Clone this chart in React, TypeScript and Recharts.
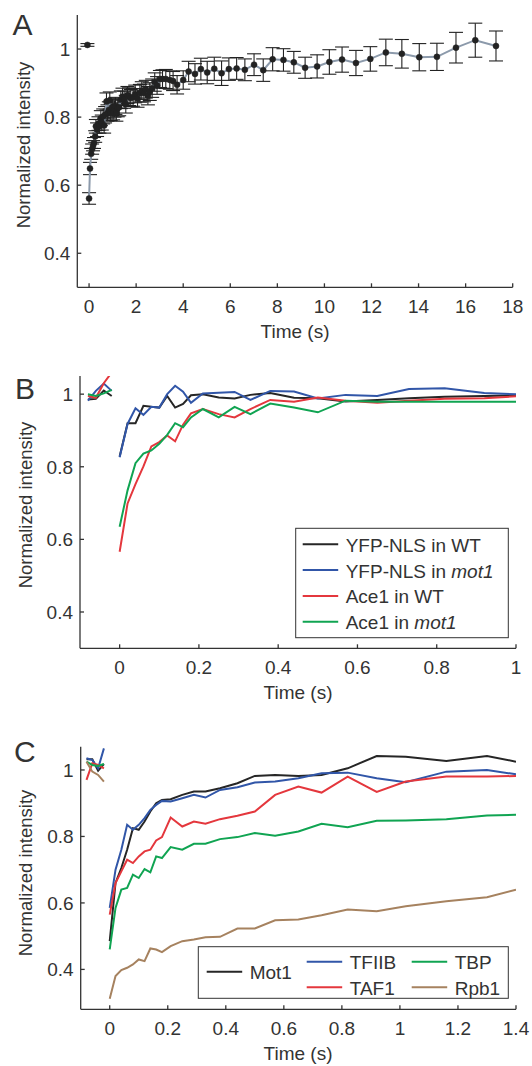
import { LineChart, Line, XAxis, YAxis, ErrorBar } from "recharts";

const FONT = '"Liberation Sans", Arial, Helvetica, sans-serif';
const INK = "#333333";

// ---- panel A: recovery curve, mean +/- error ----
const preTimeA = [-0.07];
const preValueA = [1.012];
const preErrorA = [0.004];
const timeA = [
  0.0, 0.04, 0.09, 0.13, 0.17, 0.21, 0.26, 0.29, 0.34, 0.4, 0.44, 0.5, 0.54, 0.6, 0.64, 0.68, 0.74, 0.78, 0.84, 0.88,
  0.92, 0.98, 1.02, 1.08, 1.12, 1.16, 1.22, 1.28, 1.35, 1.42, 1.49, 1.56, 1.63, 1.7, 1.77, 1.87, 1.96, 2.06, 2.16, 2.24,
  2.33, 2.41, 2.5, 2.58, 2.68, 2.79, 2.89, 3.01, 3.12, 3.26, 3.43, 3.57, 3.74, 4.0, 4.23, 4.5, 4.75, 5.02, 5.32, 5.63,
  5.94, 6.27, 6.62, 7.01, 7.4, 7.8, 8.26, 8.7, 9.18, 9.69, 10.21, 10.75, 11.34, 11.95, 12.61, 13.29, 14.03, 14.78,
  15.59, 16.41, 17.29,
];
const valueA = [
  0.561, 0.649, 0.692, 0.706, 0.716, 0.724, 0.743, 0.773, 0.763, 0.781, 0.773, 0.797, 0.784, 0.802, 0.775, 0.807,
  0.846, 0.812, 0.821, 0.849, 0.814, 0.829, 0.817, 0.824, 0.833, 0.812, 0.826, 0.829, 0.851, 0.86, 0.851, 0.838, 0.865,
  0.86, 0.856, 0.858, 0.868, 0.854, 0.87, 0.878, 0.871, 0.882, 0.863, 0.875, 0.885, 0.903, 0.893, 0.912, 0.912, 0.912,
  0.909, 0.906, 0.895, 0.909, 0.934, 0.927, 0.941, 0.931, 0.942, 0.929, 0.941, 0.943, 0.939, 0.954, 0.938, 0.97, 0.968,
  0.961, 0.945, 0.949, 0.962, 0.969, 0.959, 0.971, 0.99, 0.986, 0.976, 0.977, 1.004, 1.026, 1.009,
];
const errorA = [
  0.017, 0.018, 0.016, 0.015, 0.015, 0.016, 0.017, 0.02, 0.02, 0.02, 0.02, 0.022, 0.022, 0.022, 0.022, 0.024, 0.025,
  0.024, 0.024, 0.025, 0.024, 0.024, 0.025, 0.024, 0.025, 0.024, 0.025, 0.025, 0.026, 0.025, 0.025, 0.026, 0.025, 0.026,
  0.025, 0.026, 0.026, 0.025, 0.026, 0.026, 0.026, 0.026, 0.027, 0.026, 0.027, 0.027, 0.026, 0.025, 0.027, 0.028,
  0.027, 0.028, 0.027, 0.027, 0.03, 0.03, 0.032, 0.033, 0.034, 0.036, 0.033, 0.032, 0.032, 0.032, 0.033, 0.034, 0.033,
  0.032, 0.031, 0.034, 0.036, 0.037, 0.037, 0.036, 0.039, 0.042, 0.04, 0.04, 0.045, 0.05, 0.044,
];
const xTicksA = [0, 2, 4, 6, 8, 10, 12, 14, 16, 18];
const yTicksA = [0.4, 0.6, 0.8, 1];

// ---- panel B ----
const preTimeB = [-0.08, -0.06, -0.04, -0.02];
const timeB = [0, 0.02, 0.04, 0.06, 0.08, 0.1, 0.12, 0.14, 0.16, 0.18, 0.21, 0.25, 0.29, 0.33, 0.38, 0.44, 0.5, 0.57, 0.65, 0.73, 0.82, 0.92, 1];
const preYfpWt = [0.985, 0.987, 1.01, 0.995];
const yfpWt = [0.828, 0.92, 0.92, 0.968, 0.965, 0.963, 0.995, 0.963, 0.973, 0.997, 1.0, 0.991, 0.988, 0.998, 1.003, 0.99, 0.989, 0.98, 0.984, 0.989, 0.993, 0.995, 0.997];
const preYfpMot1 = [0.982, 1.009, 1.029, 1.009];
const yfpMot1 = [0.826, 0.918, 0.961, 0.943, 0.965, 0.963, 1.0, 1.023, 1.007, 0.976, 1.002, 1.004, 1.006, 0.984, 1.009, 1.007, 0.988, 0.998, 0.995, 1.014, 1.016, 1.003, 1.0];
const preAce1Wt = [0.995, 0.99, 1.03, 1.06];
const ace1Wt = [0.566, 0.699, 0.752, 0.801, 0.856, 0.868, 0.886, 0.87, 0.916, 0.947, 0.959, 0.945, 0.936, 0.959, 0.984, 0.979, 0.991, 0.982, 0.976, 0.982, 0.987, 0.989, 0.994];
const preAce1Mot1 = [1.0, 0.995, 1.002, 1.012];
const ace1Mot1 = [0.635, 0.735, 0.81, 0.836, 0.845, 0.863, 0.888, 0.92, 0.909, 0.936, 0.959, 0.936, 0.965, 0.945, 0.974, 0.963, 0.95, 0.982, 0.979, 0.979, 0.979, 0.979, 0.979];
const xTicksB = [0, 0.2, 0.4, 0.6, 0.8, 1];
const yTicksB = [0.4, 0.6, 0.8, 1];

// ---- panel C ----
const preTimeC = [-0.08, -0.06, -0.04, -0.02];
const timeC = [0, 0.02, 0.04, 0.06, 0.08, 0.1, 0.12, 0.14, 0.16, 0.18, 0.21, 0.25, 0.29, 0.33, 0.38, 0.44, 0.5, 0.57, 0.65, 0.73, 0.82, 0.92, 1.02, 1.16, 1.3, 1.4];
const preMot1 = [1.032, 1.032, 0.998, 1.018];
const mot1 = [0.485, 0.66, 0.705, 0.76, 0.825, 0.82, 0.845, 0.875, 0.9, 0.91, 0.912, 0.925, 0.935, 0.935, 0.945, 0.96, 0.982, 0.985, 0.982, 0.985, 1.005, 1.042, 1.04, 1.027, 1.042, 1.025];
const preTfiib = [1.035, 1.03, 1.005, 1.065];
const tfiib = [0.585, 0.7, 0.76, 0.835, 0.82, 0.835, 0.855, 0.88, 0.895, 0.907, 0.905, 0.915, 0.925, 0.917, 0.94, 0.948, 0.962, 0.965, 0.975, 0.99, 0.992, 0.975, 0.963, 0.995, 1.0, 0.987];
const preTaf1 = [0.97, 1.02, 1.015, 1.005];
const taf1 = [0.565, 0.66, 0.695, 0.73, 0.72, 0.74, 0.755, 0.76, 0.788, 0.798, 0.857, 0.83, 0.845, 0.838, 0.852, 0.862, 0.875, 0.925, 0.95, 0.932, 0.98, 0.934, 0.965, 0.98, 0.98, 0.982];
const preTbp = [1.025, 1.015, 1.012, 1.018];
const tbp = [0.46, 0.585, 0.64, 0.645, 0.685, 0.675, 0.702, 0.692, 0.74, 0.735, 0.768, 0.76, 0.778, 0.778, 0.792, 0.798, 0.81, 0.802, 0.815, 0.838, 0.828, 0.847, 0.848, 0.852, 0.863, 0.865];
const preRpb1 = [1.025, 0.995, 0.985, 0.965];
const rpb1 = [0.312, 0.38, 0.398, 0.405, 0.415, 0.43, 0.425, 0.463, 0.46, 0.452, 0.47, 0.485, 0.49, 0.497, 0.498, 0.523, 0.523, 0.548, 0.55, 0.563, 0.58, 0.575, 0.59, 0.605, 0.617, 0.64];
const xTicksC = [0, 0.2, 0.4, 0.6, 0.8, 1, 1.2, 1.4];
const yTicksC = [0.4, 0.6, 0.8, 1];

const BLACK = "#262626";
const BLUE = "#3156a8";
const RED = "#e4373d";
const GREEN = "#10a452";
const BROWN = "#a6825f";

const seriesB = [
  { key: "yfpWt", pre: preYfpWt, post: yfpWt, color: BLACK },
  { key: "yfpMot1", pre: preYfpMot1, post: yfpMot1, color: BLUE },
  { key: "ace1Wt", pre: preAce1Wt, post: ace1Wt, color: RED },
  { key: "ace1Mot1", pre: preAce1Mot1, post: ace1Mot1, color: GREEN },
];
const seriesC = [
  { key: "mot1", pre: preMot1, post: mot1, color: BLACK },
  { key: "tfiib", pre: preTfiib, post: tfiib, color: BLUE },
  { key: "taf1", pre: preTaf1, post: taf1, color: RED },
  { key: "tbp", pre: preTbp, post: tbp, color: GREEN },
  { key: "rpb1", pre: preRpb1, post: rpb1, color: BROWN },
];

const rowsA = [
  ...preTimeA.map((t, i) => ({ t, v: preValueA[i], e: preErrorA[i] })),
  { t: -0.035, v: null, e: null },
  ...timeA.map((t, i) => ({ t, v: valueA[i], e: errorA[i] })),
];

function buildRows(preTime: number[], time: number[], series: { key: string; pre: number[]; post: number[] }[]) {
  const rows: Record<string, number | null>[] = [];
  preTime.forEach((t, i) => {
    const r: Record<string, number | null> = { t };
    series.forEach((s) => (r[s.key] = s.pre[i]));
    rows.push(r);
  });
  const gap: Record<string, number | null> = { t: -0.01 };
  series.forEach((s) => (gap[s.key] = null));
  rows.push(gap);
  time.forEach((t, i) => {
    const r: Record<string, number | null> = { t };
    series.forEach((s) => (r[s.key] = s.post[i]));
    rows.push(r);
  });
  return rows;
}
const rowsB = buildRows(preTimeB, timeB, seriesB);
const rowsC = buildRows(preTimeC, timeC, seriesC);

// box with inward ticks on all four sides (matlab style)
function frame(xDomain: number[], xTicks: number[], yDomain: number[], yTicks: number[]) {
  const common = { stroke: INK, strokeWidth: 1.3, allowDataOverflow: true, interval: 0 as const, tickSize: -4 };
  const tickStyle = { fill: INK, fontSize: 19 };
  return [
    <XAxis key="xb" xAxisId="b" dataKey="t" type="number" domain={xDomain} ticks={xTicks} height={30}
      tickMargin={16.5} tick={tickStyle} tickFormatter={(v: number) => String(v)} {...common} />,
    <XAxis key="xt" xAxisId="t" orientation="top" dataKey="t" type="number" domain={xDomain} ticks={xTicks}
      height={0} tickFormatter={() => ""} {...common} />,
    <YAxis key="yl" yAxisId="l" type="number" domain={yDomain} ticks={yTicks} width={40} tickMargin={11}
      tick={tickStyle} tickFormatter={(v: number) => String(v)} {...common} />,
    <YAxis key="yr" yAxisId="r" orientation="right" type="number" domain={yDomain} ticks={yTicks} width={0}
      tickFormatter={() => ""} {...common} />,
  ];
}

function LegendRow({ x, y, color, children }: { x: number; y: number; color: string; children: React.ReactNode }) {
  return (
    <g>
      <line x1={x} x2={x + 35.5} y1={y} y2={y} stroke={color} strokeWidth={2} />
      <text x={x + 43} y={y + 7.5} fontSize={19} fill={INK}>
        {children}
      </text>
    </g>
  );
}

export default function App() {
  return (
    <div style={{ position: "absolute", left: 0, top: 0, width: 532, height: 1066, background: "#fff", fontFamily: FONT }}>
      <div style={{ position: "absolute", left: 0, top: 0 }}>
        <LineChart width={532} height={340} data={rowsA} margin={{ top: 15, right: 19.3, bottom: 22.7, left: 37.3 }}>
          {frame([-0.5, 18], xTicksA, [0.3, 1.1], yTicksA)}
          <Line xAxisId="b" yAxisId="l" dataKey="v" type="linear" stroke="#8c9aab" strokeWidth={2}
            dot={{ r: 3, fill: "#222", stroke: "#222", strokeWidth: 0.5 }} isAnimationActive={false}>
            <ErrorBar dataKey="e" width={7} stroke="#222" strokeWidth={1.1} direction="y" />
          </Line>
        </LineChart>
      </div>

      <div style={{ position: "absolute", left: 0, top: 340 }}>
        <LineChart width={532} height={360} data={rowsB} margin={{ top: 36, right: 16, bottom: 21.7, left: 40 }}>
          {frame([-0.1, 1], xTicksB, [0.3, 1.05], yTicksB)}
          {seriesB.map((s) => (
            <Line key={s.key} xAxisId="b" yAxisId="l" dataKey={s.key} type="linear" stroke={s.color}
              strokeWidth={2} dot={false} isAnimationActive={false} />
          ))}
        </LineChart>
      </div>

      <div style={{ position: "absolute", left: 0, top: 700 }}>
        <LineChart width={532} height={366} data={rowsC} margin={{ top: 46.7, right: 16, bottom: 26.7, left: 40.7 }}>
          {frame([-0.1, 1.4], xTicksC, [0.28, 1.07], yTicksC)}
          {seriesC.map((s) => (
            <Line key={s.key} xAxisId="b" yAxisId="l" dataKey={s.key} type="linear" stroke={s.color}
              strokeWidth={2} dot={false} isAnimationActive={false} />
          ))}
        </LineChart>
      </div>

      <svg width={532} height={1066} style={{ position: "absolute", left: 0, top: 0, pointerEvents: "none" }}>
        <g fill={INK} fontSize={30}>
          <text x={12.5} y={35}>A</text>
          <text x={15} y={399}>B</text>
          <text x={14} y={762}>C</text>
        </g>
        <g fill={INK} fontSize={18.5} textAnchor="middle">
          <text transform="translate(30,145) rotate(-90)">Normalized intensity</text>
          <text transform="translate(31.5,505) rotate(-90)">Normalized intensity</text>
          <text transform="translate(31.5,873) rotate(-90)">Normalized intensity</text>
        </g>
        <g fill={INK} fontSize={19} textAnchor="middle">
          <text x={295} y={338}>Time (s)</text>
          <text x={298} y={699}>Time (s)</text>
          <text x={298} y={1060}>Time (s)</text>
        </g>

        <rect x={295.7} y={528.3} width={212.6} height={109.4} fill="#fff" stroke={INK} strokeWidth={1} />
        <LegendRow x={302.7} y={544.3} color={BLACK}>YFP-NLS in WT</LegendRow>
        <LegendRow x={302.7} y={570.1} color={BLUE}>
          YFP-NLS in <tspan fontStyle="italic">mot1</tspan>
        </LegendRow>
        <LegendRow x={302.7} y={595.9} color={RED}>Ace1 in WT</LegendRow>
        <LegendRow x={302.7} y={621.7} color={GREEN}>
          Ace1 in <tspan fontStyle="italic">mot1</tspan>
        </LegendRow>

        <rect x={198.3} y={946.7} width={310} height={51.6} fill="#fff" stroke={INK} strokeWidth={1} />
        <LegendRow x={206.7} y={971.7} color={BLACK}>Mot1</LegendRow>
        <LegendRow x={306.7} y={961.7} color={BLUE}>TFIIB</LegendRow>
        <LegendRow x={306.7} y={987.3} color={RED}>TAF1</LegendRow>
        <LegendRow x={411.7} y={961.7} color={GREEN}>TBP</LegendRow>
        <LegendRow x={411.7} y={987.3} color={BROWN}>Rpb1</LegendRow>
      </svg>
    </div>
  );
}
